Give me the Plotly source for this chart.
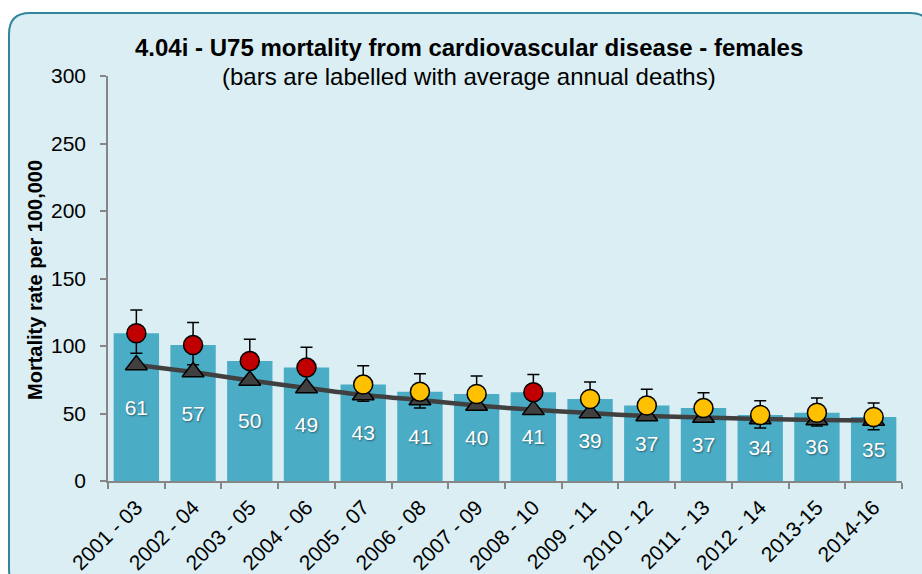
import plotly.graph_objects as go

periods = ["2001 - 03", "2002 - 04", "2003 - 05", "2004 - 06", "2005 - 07", "2006 - 08",
           "2007 - 09", "2008 - 10", "2009 - 11", "2010 - 12", "2011 - 13", "2012 - 14",
           "2013-15", "2014-16"]
local_rate = [109.4, 100.7, 88.9, 84.0, 71.4, 66.2, 64.4, 65.7, 60.7, 55.9, 54.0, 48.9, 50.6, 47.4]
ci_upper = [126.7, 117.5, 105.0, 99.0, 85.4, 79.5, 77.8, 78.8, 73.3, 67.9, 65.4, 59.5, 61.5, 57.8]
ci_lower = [94.6, 86.2, 74.0, 70.0, 59.0, 54.0, 52.5, 53.8, 49.2, 45.0, 43.5, 39.2, 40.7, 38.0]
avg_deaths = [61, 57, 50, 49, 43, 41, 40, 41, 39, 37, 37, 34, 36, 35]
england_rate = [86.0, 80.7, 74.5, 68.9, 63.7, 60.0, 55.9, 52.7, 50.3, 48.1, 47.0, 45.9, 45.2, 44.8]
significance = ["worse", "worse", "worse", "worse", "similar", "similar", "similar", "worse",
                "similar", "similar", "similar", "similar", "similar", "similar"]

sig_colors = {"worse": "#C00000", "similar": "#FFC000"}

W, H = 922, 574
L, R, T, B = 108, 20, 76, 93
PW, PH = W - L - R, H - T - B


def px(x):
    return (x - L) / PW


def py(y):
    return (H - B - y) / PH


fig = go.Figure()

fig.add_trace(go.Bar(
    x=periods, y=local_rate, text=[str(d) for d in avg_deaths],
    textposition="inside", insidetextanchor="middle",
    textfont=dict(color="white", size=21, family="Liberation Sans, Arial",
                  shadow="1px 1px 2px rgba(0,0,0,0.45)"),
    marker=dict(color="#4BACC6", line=dict(width=0)),
    hoverinfo="skip", showlegend=False,
))

# error bars (under triangles)
fig.add_trace(go.Scatter(
    x=periods, y=local_rate, mode="markers",
    marker=dict(size=1, color="rgba(0,0,0,0)"),
    error_y=dict(type="data", symmetric=False,
                 array=[u - v for u, v in zip(ci_upper, local_rate)],
                 arrayminus=[v - l for v, l in zip(local_rate, ci_lower)],
                 color="black", thickness=1.5, width=6),
    showlegend=False, hoverinfo="skip",
))

fig.add_trace(go.Scatter(
    x=periods, y=england_rate, mode="lines+markers",
    line=dict(color="#404040", width=4.5, shape="spline", smoothing=0.6),
    marker=dict(symbol="triangle-up", size=19, color="#404040",
                line=dict(color="black", width=1.5)),
    showlegend=False,
))

fig.add_trace(go.Scatter(
    x=periods, y=local_rate, mode="markers",
    marker=dict(symbol="circle", size=19,
                color=[sig_colors[s] for s in significance],
                line=dict(color="black", width=1.5)),
    showlegend=False,
))

# rounded chart frame
x0, x1, y0, y1, r = 9, 931, 13, 590, 21
path = (f"M {px(x0)},{py(y0 + r)} Q {px(x0)},{py(y0)} {px(x0 + r)},{py(y0)} "
        f"L {px(x1 - r)},{py(y0)} Q {px(x1)},{py(y0)} {px(x1)},{py(y0 + r)} "
        f"L {px(x1)},{py(y1 - r)} Q {px(x1)},{py(y1)} {px(x1 - r)},{py(y1)} "
        f"L {px(x0 + r)},{py(y1)} Q {px(x0)},{py(y1)} {px(x0)},{py(y1 - r)} Z")
fig.add_shape(type="path", path=path, xref="paper", yref="paper", layer="below",
              fillcolor="#DAEEF3", line=dict(color="#31859C", width=2))

font = "Liberation Sans, Arial, sans-serif"
fig.add_annotation(text="<b>4.04i - U75 mortality from cardiovascular disease - females</b>",
                   x=px(469), y=py(47), xref="paper", yref="paper", showarrow=False,
                   xanchor="center", yanchor="middle", font=dict(size=24, color="black", family=font))
fig.add_annotation(text="(bars are labelled with average annual deaths)",
                   x=px(469), y=py(77), xref="paper", yref="paper", showarrow=False,
                   xanchor="center", yanchor="middle", font=dict(size=24, color="black", family=font))
fig.add_annotation(text="<b>Mortality rate per 100,000</b>", textangle=-90,
                   x=px(35), y=py(280), xref="paper", yref="paper", showarrow=False,
                   xanchor="center", yanchor="middle", font=dict(size=20, color="black", family=font))

fig.update_layout(
    width=W, height=H, autosize=False,
    margin=dict(l=L, r=R, t=T, b=B, autoexpand=False),
    paper_bgcolor="white", plot_bgcolor="rgba(0,0,0,0)",
    bargap=0.2, showlegend=False,
    font=dict(family=font, color="black"),
    xaxis=dict(type="category", range=[-0.5, len(periods) - 0.5],
               showline=True, linecolor="#868686", linewidth=1.5,
               ticks="outside", tickson="boundaries", ticklen=6, tickcolor="#868686",
               tickwidth=1.5, tickangle=-45, tickfont=dict(size=21), showgrid=False,
               ticklabelstandoff=4),
    yaxis=dict(range=[0, 300], tickvals=[0, 50, 100, 150, 200, 250, 300],
               showline=True, linecolor="#868686", linewidth=1.5, ticks="outside",
               ticklen=6, tickcolor="#868686", tickwidth=1.5, showgrid=False,
               zeroline=False, tickfont=dict(size=21), ticklabelstandoff=10),
)

fig.write_html(
    "out.html",
    config={"displayModeBar": False, "responsive": False},
    post_script="document.body.style.margin='0px';document.body.style.overflow='hidden';",
)
